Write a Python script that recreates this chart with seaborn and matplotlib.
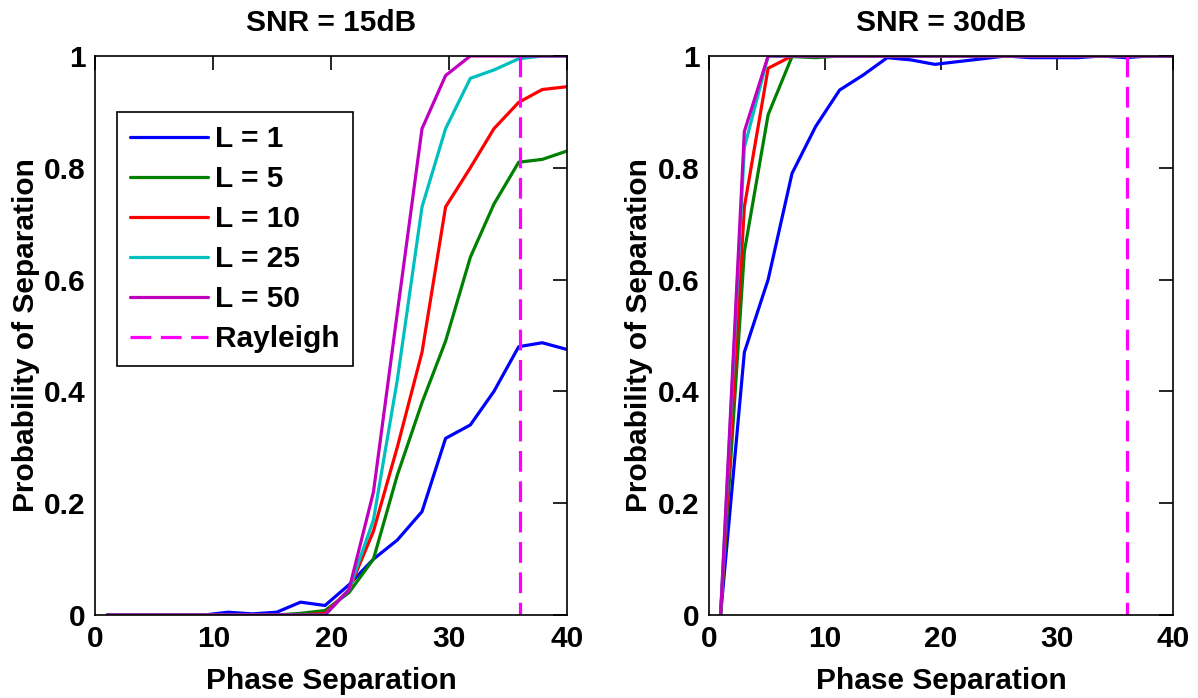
import numpy as np
import pandas as pd
import matplotlib
matplotlib.use("Agg")
import matplotlib.pyplot as plt
import seaborn as sns

# ---------------- data ----------------
phase = [1, 3.05, 5.1, 7.16, 9.2, 11.26, 13.3, 15.37, 17.4, 19.47,
         21.5, 23.58, 25.6, 27.7, 29.7, 31.8, 33.8, 35.9, 37.9, 40]

series_labels = ["L = 1", "L = 5", "L = 10", "L = 25", "L = 50"]

# SNR = 15 dB
snr15_L1 = [0, 0, 0, 0, 0, 0.005, 0.002, 0.005, 0.023, 0.017,
            0.054, 0.10, 0.134, 0.185, 0.316, 0.34, 0.40, 0.48, 0.487, 0.475]
snr15_L5 = [0, 0, 0, 0, 0, 0, 0, 0, 0.003, 0.008,
            0.04, 0.10, 0.25, 0.38, 0.49, 0.64, 0.735, 0.81, 0.815, 0.83]
snr15_L10 = [0, 0, 0, 0, 0, 0, 0, 0, 0, 0.003,
             0.045, 0.15, 0.30, 0.47, 0.73, 0.80, 0.87, 0.917, 0.94, 0.945]
snr15_L25 = [0, 0, 0, 0, 0, 0, 0, 0, 0, 0,
             0.045, 0.17, 0.42, 0.73, 0.87, 0.96, 0.975, 0.995, 1.0, 1.0]
snr15_L50 = [0, 0, 0, 0, 0, 0, 0, 0, 0, 0,
             0.045, 0.22, 0.54, 0.87, 0.965, 1.0, 1.0, 1.0, 1.0, 1.0]

# SNR = 30 dB
snr30_L1 = [0, 0.47, 0.60, 0.79, 0.874, 0.939, 0.966, 0.997, 0.993, 0.985,
            0.99, 0.995, 1.0, 0.997, 0.997, 0.997, 1.0, 0.997, 1.0, 1.0]
snr30_L5 = [0, 0.65, 0.895, 0.999, 0.997, 1.0, 1.0, 1.0, 1.0, 1.0,
            1.0, 1.0, 1.0, 1.0, 1.0, 1.0, 1.0, 1.0, 1.0, 1.0]
snr30_L10 = [0, 0.73, 0.978, 1.0, 1.0, 1.0, 1.0, 1.0, 1.0, 1.0,
             1.0, 1.0, 1.0, 1.0, 1.0, 1.0, 1.0, 1.0, 1.0, 1.0]
snr30_L25 = [0, 0.836, 1.0, 1.0, 1.0, 1.0, 1.0, 1.0, 1.0, 1.0,
             1.0, 1.0, 1.0, 1.0, 1.0, 1.0, 1.0, 1.0, 1.0, 1.0]
snr30_L50 = [0, 0.865, 1.0, 1.0, 1.0, 1.0, 1.0, 1.0, 1.0, 1.0,
             1.0, 1.0, 1.0, 1.0, 1.0, 1.0, 1.0, 1.0, 1.0, 1.0]

rayleigh = 36
rayleigh_label = "Rayleigh"

titles = ["SNR = 15dB", "SNR = 30dB"]
x_ticks = [0, 10, 20, 30, 40]
y_ticks = [0, 0.2, 0.4, 0.6, 0.8, 1]
y_ticklabels = ["0", "0.2", "0.4", "0.6", "0.8", "1"]
xlabel = "Phase Separation"
ylabel = "Probability of Separation"

colors = ["#0000FF", "#008000", "#FF0000", "#00BFBF", "#BF00BF"]
rayleigh_color = "#FF00FF"

# ---------------- style ----------------
sns.set_theme(style="white")
plt.rcParams["font.family"] = ["Liberation Sans", "DejaVu Sans"]
plt.rcParams["font.weight"] = "bold"
plt.rcParams["text.color"] = "black"
plt.rcParams["axes.labelcolor"] = "black"
plt.rcParams["xtick.color"] = "black"
plt.rcParams["ytick.color"] = "black"
FS = 21.5

fig = plt.figure(figsize=(11.98, 6.98), dpi=100)
ax_l = fig.add_axes([0.0797, 0.1189, 0.3936, 0.8009])
ax_r = fig.add_axes([0.5918, 0.1189, 0.3873, 0.8009])

panels = [
    (ax_l, [snr15_L1, snr15_L5, snr15_L10, snr15_L25, snr15_L50]),
    (ax_r, [snr30_L1, snr30_L5, snr30_L10, snr30_L25, snr30_L50]),
]

for i, (ax, ys) in enumerate(panels):
    for lab, y, c in zip(series_labels, ys, colors):
        df = pd.DataFrame({"phase": phase, "prob": y})
        sns.lineplot(data=df, x="phase", y="prob", color=c, linewidth=2.3,
                     label=lab, ax=ax, estimator=None, sort=False)
    ax.plot([rayleigh, rayleigh], [1, 0], color=rayleigh_color, linewidth=2.3,
            linestyle=(0, (6.5, 3)), label=rayleigh_label)
    ax.set_xlim(0, 40)
    ax.set_ylim(0, 1)
    ax.set_xticks(x_ticks)
    ax.set_xticklabels([str(t) for t in x_ticks])
    ax.set_yticks(y_ticks)
    ax.set_yticklabels(y_ticklabels)
    ax.tick_params(direction="in", length=10, width=1.2, top=True, right=True,
                   labelsize=FS, pad=7, colors="black")
    for lbl in ax.get_xticklabels() + ax.get_yticklabels():
        lbl.set_fontweight("bold")
    for sp in ax.spines.values():
        sp.set_visible(True)
        sp.set_color("black")
        sp.set_linewidth(1.2)
    ax.set_title(titles[i], fontsize=FS, fontweight="bold", pad=18,
                 color="black")
    ax.set_xlabel(xlabel, fontsize=FS, fontweight="bold", labelpad=10,
                  color="black")
    ax.set_ylabel(ylabel, fontsize=FS, fontweight="bold", labelpad=3,
                  color="black")
    if i == 0:
        leg = ax.legend(loc="upper left", bbox_to_anchor=(0.045, 0.9),
                        borderaxespad=0, frameon=True,
                        fancybox=False, edgecolor="black", framealpha=1,
                        handlelength=2.6, handletextpad=0.25,
                        labelspacing=0.4, borderpad=0.45,
                        prop={"size": FS, "weight": "bold"})
        leg.get_frame().set_linewidth(1.2)
        for t in leg.get_texts():
            t.set_color("black")
    else:
        ax.get_legend().remove()

fig.savefig("out.png", dpi=100)
